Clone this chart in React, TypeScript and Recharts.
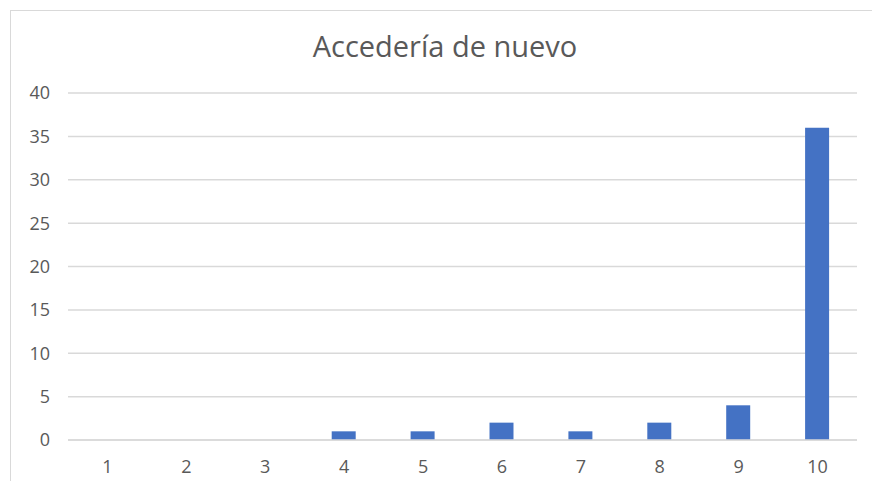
import React from "react";
import { BarChart, Bar, XAxis, YAxis, CartesianGrid } from "recharts";

const categories = ["1", "2", "3", "4", "5", "6", "7", "8", "9", "10"];
const values = [0, 0, 0, 1, 1, 2, 1, 2, 4, 36];
const yTicks = [0, 5, 10, 15, 20, 25, 30, 35, 40];
const title = "Accedería de nuevo";

const data = categories.map((c, i) => ({ name: c, value: values[i] }));

const FONT = "'Open Sans', 'Noto Sans', sans-serif";
const TEXT = "#595959";

export default function App() {
  return (
    <div style={{ position: "absolute", left: 0, top: 0, width: 872, height: 483, background: "#fff", overflow: "hidden" }}>
      <div
        style={{
          position: "absolute",
          left: 10,
          top: 10,
          width: 900,
          height: 471,
          borderLeft: "1.5px solid #d9d9d9",
          borderTop: "1.5px solid #d9d9d9",
          boxSizing: "border-box",
        }}
      />
      <svg style={{ position: "absolute", left: 0, top: 0 }} width={872} height={80}>
        <text x={445} y={57} textAnchor="middle" fontFamily={FONT} fontSize={29} fill={TEXT}>
          {title}
        </text>
      </svg>
      <div style={{ position: "absolute", left: 0, top: 0 }}>
        <BarChart
          width={872}
          height={483}
          data={data}
          margin={{ top: 93, right: 15, bottom: 13, left: 8 }}
          barSize={24}
        >
          <CartesianGrid vertical={false} stroke="#d9d9d9" strokeWidth={1.5} />
          <XAxis
            dataKey="name"
            axisLine={{ stroke: "#d9d9d9", strokeWidth: 1.5 }}
            tickLine={false}
            tickMargin={14}
            height={30}
            tick={{ fill: TEXT, fontSize: 18, fontFamily: FONT }}
          />
          <YAxis
            width={60}
            domain={[0, 40]}
            ticks={yTicks}
            axisLine={false}
            tickLine={false}
            tickMargin={12}
            tick={{ fill: TEXT, fontSize: 18, fontFamily: FONT }}
          />
          <Bar dataKey="value" fill="#4472C4" isAnimationActive={false} />
        </BarChart>
      </div>
    </div>
  );
}
